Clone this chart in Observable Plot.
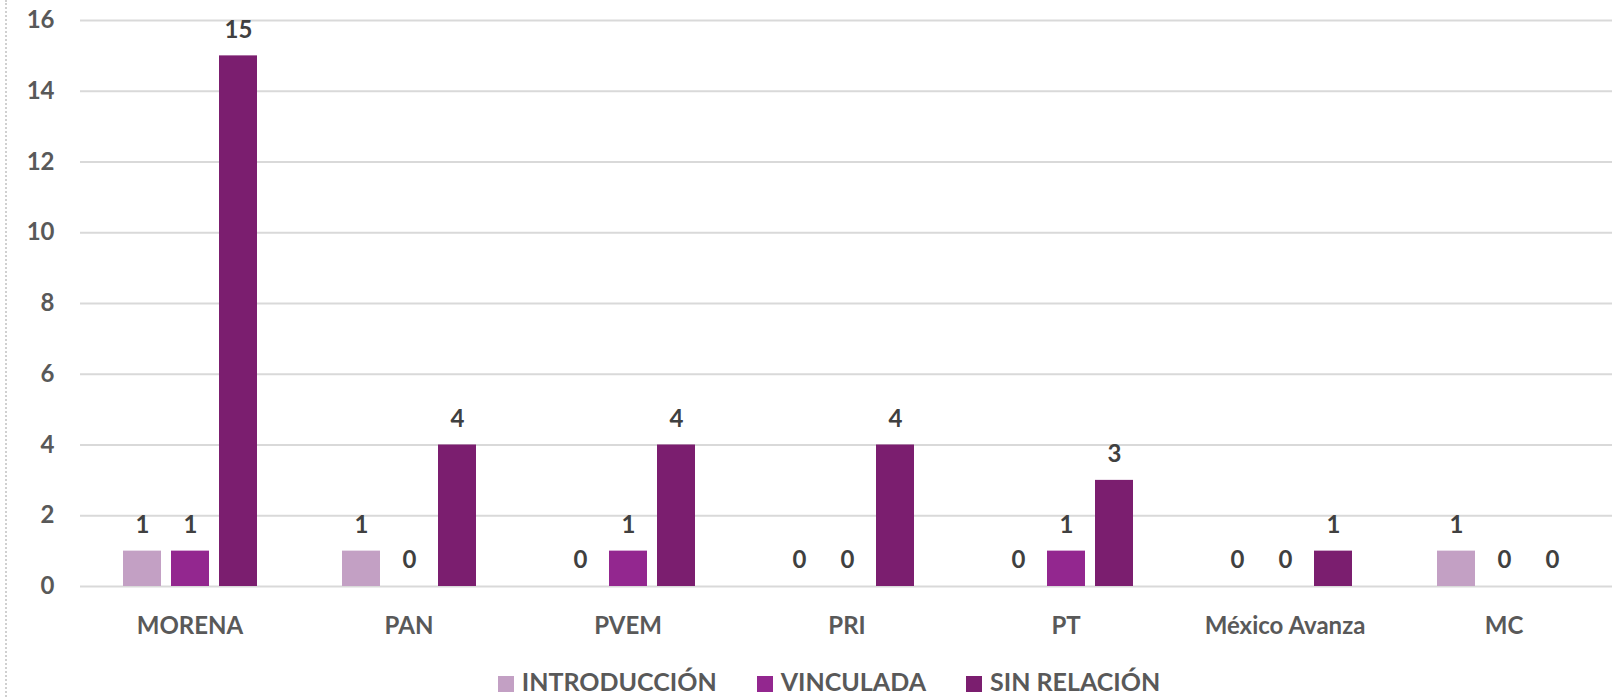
<!DOCTYPE html>
<html>
<head>
<meta charset="utf-8">
<script src="https://cdn.jsdelivr.net/npm/d3@7"></script>
<script src="https://cdn.jsdelivr.net/npm/@observablehq/plot@0.6"></script>
<style>
  html, body { margin: 0; padding: 0; background: #fff; }
  body { width: 1612px; height: 697px; overflow: hidden; position: relative; font-family: Lato, "Open Sans", sans-serif; }
  #edge { position: absolute; left: 5px; top: 0; height: 697px; border-left: 2px dotted #d0d0d0; }
  #chart { position: absolute; left: 0; top: 0; }
  #legend { position: absolute; left: 0; width: 1612px; top: 666px; line-height: 30px; display: flex; justify-content: center; gap: 40px;
            padding-left: 46px; box-sizing: border-box;
            font-size: 25px; font-weight: 700; color: #595959; }
  #legend span.sw { display: inline-block; width: 16px; height: 16px; margin-right: 8px; vertical-align: -1px; }
</style>
</head>
<body>
<div id="edge"></div>
<div id="chart"></div>
<div id="legend"></div>
<script>
const parties = ["MORENA", "PAN", "PVEM", "PRI", "PT", "México Avanza", "MC"];
const series = ["INTRODUCCIÓN", "VINCULADA", "SIN RELACIÓN"];
const introduccion = [1, 1, 0, 0, 0, 0, 1];
const vinculada = [1, 0, 1, 0, 1, 0, 0];
const sinRelacion = [15, 4, 4, 4, 3, 1, 0];
const colors = ["#C3A0C4", "#93278F", "#7B1E6F"];
const yTicks = [0, 2, 4, 6, 8, 10, 12, 14, 16];

const values = [introduccion, vinculada, sinRelacion];
const data = [];
parties.forEach((p, i) => series.forEach((s, j) => data.push({party: p, series: s, value: values[j][i]})));

const chart = Plot.plot({
  width: 1612,
  height: 640,
  marginLeft: 77,
  marginRight: -4,
  marginTop: 20,
  marginBottom: 54,
  style: {fontFamily: "Lato, 'Open Sans', sans-serif", fontWeight: 700, color: "#595959", background: "transparent"},
  fx: {domain: parties, paddingInner: 0, paddingOuter: 0, label: null},
  x: {domain: series, paddingInner: 0.216, paddingOuter: 0.868, axis: null},
  y: {domain: [0, 16], ticks: yTicks, label: null},
  color: {domain: series, range: colors},
  marks: [
    Plot.gridY(yTicks, {stroke: "#d9d9d9", strokeOpacity: 1, strokeWidth: 2}),
    Plot.axisY(yTicks, {tickSize: 0, tickPadding: 26, fontSize: 24, fill: "#595959", label: null}),
    Plot.axisFx({anchor: "bottom", tickSize: 0, tickPadding: 30, fontSize: 24, fill: "#595959", label: null}),
    Plot.barY(data, {fx: "party", x: "series", y: "value", fill: "series"}),
    Plot.text(data, {fx: "party", x: "series", y: "value", text: d => String(d.value), dy: -26,
      fontSize: 24, fontWeight: 700, fill: "#404040", lineAnchor: "middle"})
  ]
});
document.getElementById("chart").appendChild(chart);

const legend = document.getElementById("legend");
series.forEach((s, i) => {
  const item = document.createElement("div");
  item.innerHTML = `<span class="sw" style="background:${colors[i]}"></span>${s}`;
  legend.appendChild(item);
});
</script>
</body>
</html>
